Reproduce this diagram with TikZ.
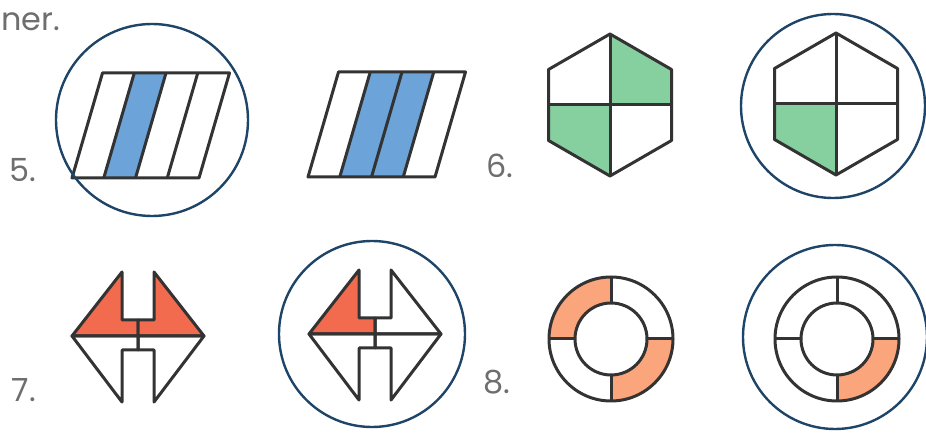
\documentclass[tikz,border=0pt]{standalone}
\usepackage{fontspec}
\newfontfamily\labelfont{Poppins}
\usepackage{xcolor}
\definecolor{ringblue}{HTML}{1E4468}
\definecolor{edge}{HTML}{333333}
\definecolor{stripe}{HTML}{6CA3D8}
\definecolor{leaf}{HTML}{86CF9F}
\definecolor{tomato}{HTML}{F26B4E}
\definecolor{peach}{HTML}{FBA57C}
\definecolor{numgray}{HTML}{6E6E6E}
\tikzset{
  outline/.style={draw=edge,line width=3bp,line join=round},
  choice/.style={draw=ringblue,line width=2.4bp},
  numlabel/.style={text=numgray,inner sep=0pt,
    font=\labelfont\fontsize{32}{36}\selectfont},
}

\begin{document}
\begin{tikzpicture}[x=1bp,y=-1bp]
  \useasboundingbox (0,0) rectangle (926,435);
  \node[numlabel,anchor=base west] (tail) at (1,31) {ner.};
  \node[numlabel] (n5) at (23,170) {5.};
  \node[numlabel] (n6) at (500,166) {6.};
  \node[numlabel] (n7) at (24,390) {7.};
  \node[numlabel] (n8) at (497,382) {8.};

  % 5. slanted strips
  \begin{scope}[shift={(72,178)}]
    \fill[stripe] (31.75,0) -- (63.5,0) -- (94,-105) -- (62.25,-105) -- cycle;
    \foreach \i in {1,2,3} \draw[outline] (\i*31.75,0) -- (30.5+\i*31.75,-105);
    \draw[outline] (0,0) -- (127,0) -- (157.5,-105) -- (30.5,-105) -- cycle;
  \end{scope}
  \begin{scope}[shift={(308,177)}]
    \fill[stripe] (31.75,0) -- (95.25,0) -- (125.75,-105) -- (62.25,-105) -- cycle;
    \foreach \i in {1,2,3} \draw[outline] (\i*31.75,0) -- (30.5+\i*31.75,-105);
    \draw[outline] (0,0) -- (127,0) -- (157.5,-105) -- (30.5,-105) -- cycle;
  \end{scope}

  % 6. hexagons
  \begin{scope}[shift={(610,105)}]
    \fill[leaf] (0,0) -- (0,-71) -- (61.5,-35.5) -- (61.5,0) -- cycle;
    \fill[leaf] (0,0) -- (0,71) -- (-61.5,35.5) -- (-61.5,0) -- cycle;
    \draw[outline] (0,-71) -- (61.5,-35.5) -- (61.5,35.5) -- (0,71)
      -- (-61.5,35.5) -- (-61.5,-35.5) -- cycle;
    \draw[outline] (0,-71) -- (0,71) (-61.5,0) -- (61.5,0);
  \end{scope}
  \begin{scope}[shift={(836,104)}]
    \fill[leaf] (0,0) -- (0,71) -- (-61.5,35.5) -- (-61.5,0) -- cycle;
    \draw[outline] (0,-71) -- (61.5,-35.5) -- (61.5,35.5) -- (0,71)
      -- (-61.5,35.5) -- (-61.5,-35.5) -- cycle;
    \draw[outline] (0,-71) -- (0,71) (-61.5,0) -- (61.5,0);
  \end{scope}

  % 7. notched diamonds
  \begin{scope}[shift={(138,336)}]
    \draw[outline,fill=tomato] (-66,0) -- (-16,-64) -- (-16,-16) -- (0,-16) -- (0,0) -- cycle;
    \draw[outline,fill=tomato] (66,0) -- (16,-64) -- (16,-16) -- (0,-16) -- (0,0) -- cycle;
    \draw[outline] (-66,0) -- (-16,66) -- (-16,14) -- (0,14) -- (0,0) -- cycle;
    \draw[outline] (66,0) -- (16,66) -- (16,14) -- (0,14) -- (0,0) -- cycle;
  \end{scope}
  \begin{scope}[shift={(375,334)}]
    \draw[outline,fill=tomato] (-66,0) -- (-16,-64) -- (-16,-16) -- (0,-16) -- (0,0) -- cycle;
    \draw[outline] (66,0) -- (16,-64) -- (16,-16) -- (0,-16) -- (0,0) -- cycle;
    \draw[outline] (-66,0) -- (-16,66) -- (-16,14) -- (0,14) -- (0,0) -- cycle;
    \draw[outline] (66,0) -- (16,66) -- (16,14) -- (0,14) -- (0,0) -- cycle;
  \end{scope}

  % 8. rings
  \begin{scope}[shift={(611,339)}]
    \fill[peach] (180:62) arc[start angle=180,end angle=270,radius=62]
      -- (270:36) arc[start angle=270,end angle=180,radius=36] -- cycle;
    \fill[peach] (0:62) arc[start angle=0,end angle=90,radius=62]
      -- (90:36) arc[start angle=90,end angle=0,radius=36] -- cycle;
    \draw[outline] (0,0) circle[radius=62] (0,0) circle[radius=36];
    \foreach \a in {0,90,180,270} \draw[outline] (\a:36) -- (\a:62);
  \end{scope}
  \begin{scope}[shift={(837,339)}]
    \fill[peach] (0:62) arc[start angle=0,end angle=90,radius=62]
      -- (90:36) arc[start angle=90,end angle=0,radius=36] -- cycle;
    \draw[outline] (0,0) circle[radius=62] (0,0) circle[radius=36];
    \foreach \a in {0,90,180,270} \draw[outline] (\a:36) -- (\a:62);
  \end{scope}

  % chosen answers
  \draw[choice] (152,120) circle[radius=96];
  \draw[choice] (833,106) circle[radius=92];
  \draw[choice] (372,334) circle[radius=93];
  \draw[choice] (835,337) circle[radius=92];
\end{tikzpicture}
\end{document}
